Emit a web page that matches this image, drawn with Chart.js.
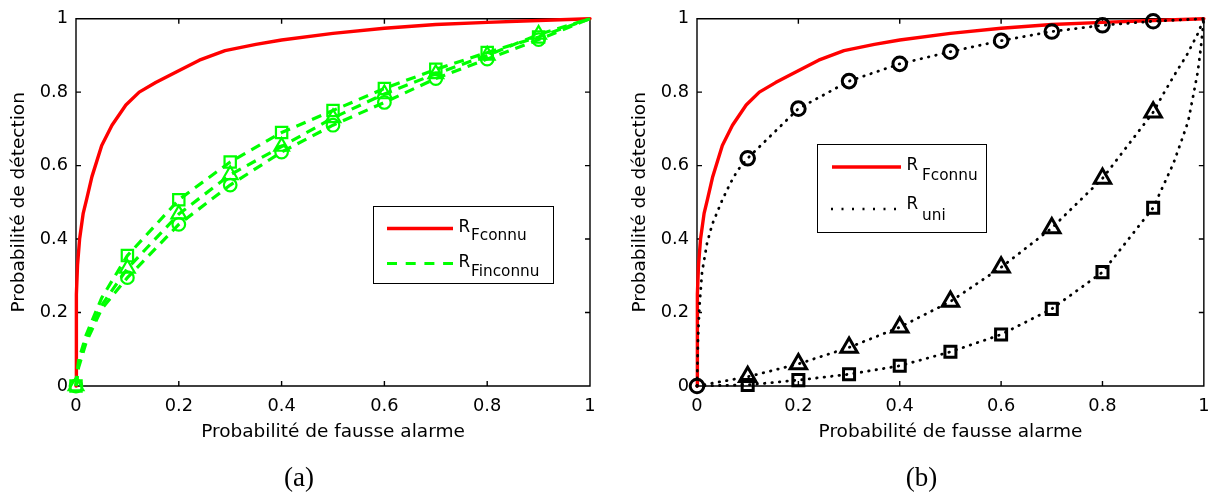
<!DOCTYPE html>
<html><head><meta charset="utf-8">
<script src="https://cdn.jsdelivr.net/npm/chart.js@4/dist/chart.umd.min.js"></script>
<style>
html,body{margin:0;padding:0;background:#fff;}
body{width:1219px;height:495px;position:relative;overflow:hidden;font-family:"DejaVu Sans",sans-serif;}
canvas{position:absolute;top:0;}
#ca{left:0;} #cb{left:620px;}
.lg{position:absolute;border:1.3px solid #000;background:#fff;box-sizing:border-box;}
.t{position:absolute;line-height:1;white-space:nowrap;color:#000;font-family:"DejaVu Sans",sans-serif;}
.R{font-size:16.8px;}
.s{font-size:15.3px;}
.cap{position:absolute;width:100px;text-align:center;font-family:"Liberation Serif",serif;font-size:27px;line-height:1;color:#000;}
svg{position:absolute;left:0;top:0;}
</style></head>
<body>
<canvas id="ca" width="620" height="455"></canvas>
<canvas id="cb" width="599" height="455"></canvas>
<div class="lg" style="left:373px;top:206px;width:181px;height:78px"></div>
<div class="lg" style="left:817px;top:144px;width:170px;height:89px"></div>
<svg width="1219" height="495">
 <line x1="387" y1="228.5" x2="453" y2="228.5" stroke="#ff0000" stroke-width="3.4"/>
 <line x1="387" y1="263.5" x2="453" y2="263.5" stroke="#00ff00" stroke-width="3.2" stroke-dasharray="10 8.7"/>
 <line x1="832" y1="167" x2="901" y2="167" stroke="#ff0000" stroke-width="3.4"/>
 <line x1="831" y1="209" x2="897" y2="209" stroke="#000" stroke-width="2.5" stroke-dasharray="2 8.5"/>
</svg>
<span class="t R" style="left:458.5px;top:218px">R</span><span class="t s" style="left:471px;top:228px">Fconnu</span>
<span class="t R" style="left:458.5px;top:253px">R</span><span class="t s" style="left:471px;top:264px">Finconnu</span>
<span class="t R" style="left:906.5px;top:156px">R</span><span class="t s" style="left:922px;top:168px">Fconnu</span>
<span class="t R" style="left:906.5px;top:195px">R</span><span class="t s" style="left:922px;top:208px">uni</span>
<div class="cap" style="left:249px;top:464px">(a)</div>
<div class="cap" style="left:871.5px;top:464px">(b)</div>
<script>
// ---- axis ticks ----
const tickValues = [0, 0.2, 0.4, 0.6, 0.8, 1];
const tickLabels = ['0', '0.2', '0.4', '0.6', '0.8', '1'];
const xTitle = 'Probabilité de fausse alarme';
const yTitle = 'Probabilité de détection';

// ---- marker abscissas ----
const markerPfaA = [0, 0.1, 0.2, 0.3, 0.4, 0.5, 0.6, 0.7, 0.8, 0.9];
const markerPfaCircleB = [0, 0.1, 0.2, 0.3, 0.4, 0.5, 0.6, 0.7, 0.8, 0.9];
const markerPfaOtherB = [0.1, 0.2, 0.3, 0.4, 0.5, 0.6, 0.7, 0.8, 0.9];

// ---- R_Fconnu (red, both panels) ----
const fconnuPfa = [0, 0.0005, 0.001, 0.003, 0.007, 0.014, 0.021, 0.031, 0.05, 0.07, 0.097, 0.123, 0.155, 0.195, 0.24, 0.29, 0.35, 0.4, 0.5, 0.6, 0.7, 0.8, 0.9, 1];
const fconnuPd  = [0, 0.12, 0.25, 0.33, 0.40, 0.47, 0.51, 0.57, 0.655, 0.71, 0.765, 0.80, 0.826, 0.855, 0.887, 0.913, 0.93, 0.942, 0.96, 0.974, 0.984, 0.99, 0.995, 1];

// ---- R_Finconnu (green, panel a) ----
const finconnuPfa       = [0, 0.005, 0.02, 0.05, 0.1, 0.2, 0.3, 0.4, 0.5, 0.6, 0.7, 0.8, 0.9, 1];
const finconnuSquarePd  = [0, 0.07, 0.14, 0.24, 0.355, 0.507, 0.61, 0.69, 0.75, 0.81, 0.862, 0.908, 0.95, 1];
const finconnuTriPd     = [0, 0.06, 0.13, 0.22, 0.32, 0.468, 0.575, 0.652, 0.73, 0.795, 0.85, 0.9, 0.957, 1];
const finconnuCirclePd  = [0, 0.05, 0.12, 0.21, 0.295, 0.44, 0.547, 0.637, 0.71, 0.772, 0.837, 0.89, 0.943, 1];

// ---- R_uni (black dotted, panel b) ----
const uniCirclePfa = [0, 0.002, 0.005, 0.01, 0.02, 0.03, 0.05, 0.065, 0.08, 0.1, 0.2, 0.3, 0.4, 0.5, 0.6, 0.7, 0.8, 0.9, 1];
const uniCirclePd  = [0, 0.13, 0.22, 0.31, 0.39, 0.44, 0.507, 0.55, 0.587, 0.62, 0.755, 0.83, 0.877, 0.91, 0.94, 0.965, 0.982, 0.993, 1];
const uniTriPfa = [0, 0.1, 0.2, 0.3, 0.4, 0.5, 0.6, 0.7, 0.8, 0.9, 0.92, 0.946, 0.966, 0.988, 1];
const uniTriPd  = [0, 0.025, 0.06, 0.105, 0.16, 0.23, 0.323, 0.43, 0.565, 0.745, 0.795, 0.856, 0.9, 0.959, 1];
const uniSquarePfa = [0, 0.1, 0.2, 0.3, 0.4, 0.5, 0.6, 0.7, 0.8, 0.9, 0.94, 0.959, 0.969, 0.979, 0.988, 0.994, 1];
const uniSquarePd  = [0, 0.003, 0.016, 0.032, 0.055, 0.093, 0.14, 0.21, 0.31, 0.485, 0.606, 0.68, 0.72, 0.79, 0.855, 0.92, 1];

const RED = '#ff0000', GREEN = '#00ff00', BLACK = '#000000';

function pts(xs, ys) { return xs.map((x, i) => ({x: x, y: ys[i]})); }
function marks(xs, ys, at) {
  return pts(xs, ys).filter(p => at.some(m => Math.abs(m - p.x) < 1e-9));
}
function lineDs(xs, ys, color, width, dash, cap, order) {
  return {data: pts(xs, ys), showLine: true, borderColor: color, borderWidth: width,
    borderDash: dash, borderCapStyle: cap, borderJoinStyle: 'round', pointRadius: 0,
    tension: 0, fill: false, clip: false, order: order};
}
function markDs(data, color, style, radius, width) {
  return {data: data, showLine: false, pointStyle: style, pointRadius: radius,
    pointBorderWidth: width, pointBorderColor: color, pointBackgroundColor: 'rgba(0,0,0,0)',
    borderColor: color, backgroundColor: 'rgba(0,0,0,0)', clip: false, order: 0};
}

const boxPlugin = {
  id: 'matlabBox',
  beforeDatasetsDraw(chart) {
    const {ctx, chartArea: a, scales: {x, y}} = chart;
    ctx.save();
    ctx.strokeStyle = '#000'; ctx.lineWidth = 1.4;
    ctx.beginPath();
    ctx.rect(a.left, a.top, a.right - a.left, a.bottom - a.top);
    const L = 5;
    tickValues.forEach(v => {
      const px = x.getPixelForValue(v), py = y.getPixelForValue(v);
      ctx.moveTo(px, a.bottom); ctx.lineTo(px, a.bottom - L);
      ctx.moveTo(px, a.top); ctx.lineTo(px, a.top + L);
      ctx.moveTo(a.left, py); ctx.lineTo(a.left + L, py);
      ctx.moveTo(a.right, py); ctx.lineTo(a.right - L, py);
    });
    ctx.stroke();
    ctx.restore();
  }
};

function makeOptions(yWidth, rightPad, yTitlePad) {
  const font = {family: 'DejaVu Sans', size: 17.8};
  const tfont = {family: 'DejaVu Sans', size: 18.5};
  return {
    responsive: false, animation: false, events: [],
    layout: {padding: {left: 0, top: 13, right: rightPad, bottom: 0}},
    plugins: {legend: {display: false}, tooltip: {enabled: false}},
    scales: {
      x: {type: 'linear', min: 0, max: 1,
        grid: {display: false, drawTicks: false}, border: {display: false},
        afterBuildTicks: s => { s.ticks = tickValues.map(v => ({value: v})); },
        afterFit: s => { s.height = 69; },
        ticks: {font: font, color: '#000', padding: 9.5, maxRotation: 0, autoSkip: false,
          callback: (v, i) => tickLabels[i]},
        title: {display: true, text: xTitle, font: tfont, color: '#000', padding: {top: 0, bottom: 11.5}}
      },
      y: {type: 'linear', min: 0, max: 1,
        grid: {display: false, drawTicks: false}, border: {display: false},
        afterBuildTicks: s => { s.ticks = tickValues.map(v => ({value: v})); },
        afterFit: s => { s.width = yWidth; },
        ticks: {font: font, color: '#000', padding: 8, autoSkip: false,
          callback: (v, i) => tickLabels[i]},
        title: {display: true, text: yTitle, font: tfont, color: '#000', padding: {top: yTitlePad, bottom: 0}}
      }
    }
  };
}

new Chart(document.getElementById('ca'), {
  type: 'scatter',
  data: {datasets: [
    lineDs(fconnuPfa, fconnuPd, RED, 3.4, [], 'round', 2),
    lineDs(finconnuPfa, finconnuSquarePd, GREEN, 3.2, [10, 7], 'butt', 1),
    lineDs(finconnuPfa, finconnuTriPd, GREEN, 3.2, [10, 7], 'butt', 1),
    lineDs(finconnuPfa, finconnuCirclePd, GREEN, 3.2, [10, 7], 'butt', 1),
    markDs(marks(finconnuPfa, finconnuSquarePd, markerPfaA), GREEN, 'rect', 8, 2.2),
    markDs(marks(finconnuPfa, finconnuTriPd, markerPfaA), GREEN, 'triangle', 8.5, 2.2),
    markDs(marks(finconnuPfa, finconnuCirclePd, markerPfaA), GREEN, 'circle', 6.3, 2.2)
  ]},
  options: makeOptions(76, 30, 8),
  plugins: [boxPlugin]
});

new Chart(document.getElementById('cb'), {
  type: 'scatter',
  data: {datasets: [
    lineDs(fconnuPfa, fconnuPd, RED, 3.4, [], 'round', 2),
    lineDs(uniCirclePfa, uniCirclePd, BLACK, 2.8, [0.5, 7], 'round', 1),
    lineDs(uniTriPfa, uniTriPd, BLACK, 2.8, [0.5, 7], 'round', 1),
    lineDs(uniSquarePfa, uniSquarePd, BLACK, 2.8, [0.5, 7], 'round', 1),
    markDs(marks(uniCirclePfa, uniCirclePd, markerPfaCircleB), BLACK, 'circle', 6.8, 3),
    markDs(marks(uniTriPfa, uniTriPd, markerPfaOtherB), BLACK, 'triangle', 9.5, 3),
    markDs(marks(uniSquarePfa, uniSquarePd, markerPfaOtherB), BLACK, 'rect', 7.8, 3)
  ]},
  options: makeOptions(77, 8, 9.5),
  plugins: [boxPlugin]
});
</script>
</body></html>
